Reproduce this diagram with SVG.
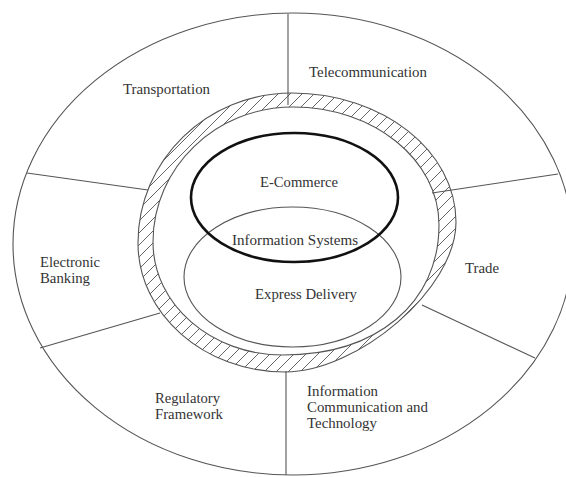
<svg xmlns="http://www.w3.org/2000/svg" width="566" height="477" viewBox="0 0 566 477">
<style>
.ln{fill:none;stroke:#555;stroke-width:1.1}
.lbl{font-family:"Liberation Serif","Times New Roman",serif;font-size:14px;fill:#333}
</style>
<defs>
<pattern id="hatch" patternUnits="userSpaceOnUse" width="12" height="12">
<path d="M-1,13 L13,-1 M-1,1 L1,-1 M11,13 L13,11" stroke="#666" stroke-width="1" fill="none"/>
</pattern>
</defs>
<rect width="566" height="477" fill="#fff"/>
<g id="outer-ring">
<ellipse cx="293" cy="244" rx="280" ry="231" class="ln" fill="#fff"/>
</g>
<g id="band">
<path fill="url(#hatch)" fill-rule="evenodd" stroke="#555" stroke-width="1.1" d="M292,93 C382.6,93 456,151 456,222 C456,289.5 357,372 285,372 C204,372 138,314 138,243 C138,160 207,93 292,93 Z M293,107 C373.6,107 439,159.8 439,225 C439,303 377,355 283,355 C211.2,355 153,304.4 153,242 C153,167.4 215.7,107 293,107 Z"/>
</g>
<g id="connectors">
<line x1="288" y1="14" x2="288" y2="105" class="ln"/>
<line x1="27" y1="173" x2="148" y2="190" class="ln"/>
<line x1="40" y1="348" x2="160" y2="313" class="ln"/>
<line x1="286" y1="371" x2="286" y2="475" class="ln"/>
<line x1="422" y1="305" x2="535" y2="358" class="ln"/>
<line x1="432" y1="193" x2="558" y2="174" class="ln"/>
</g>
<g id="transportation"><text class="lbl" x="123" y="94" textLength="87" lengthAdjust="spacingAndGlyphs">Transportation</text></g>
<g id="telecommunication"><text class="lbl" x="309" y="77" textLength="118" lengthAdjust="spacingAndGlyphs">Telecommunication</text></g>
<g id="electronic-banking">
<text class="lbl" x="40" y="267" textLength="60" lengthAdjust="spacingAndGlyphs">Electronic</text>
<text class="lbl" x="40" y="283" textLength="50" lengthAdjust="spacingAndGlyphs">Banking</text>
</g>
<g id="trade"><text class="lbl" x="465" y="273" textLength="34" lengthAdjust="spacingAndGlyphs">Trade</text></g>
<g id="regulatory-framework">
<text class="lbl" x="155" y="403" textLength="65" lengthAdjust="spacingAndGlyphs">Regulatory</text>
<text class="lbl" x="155" y="419" textLength="68" lengthAdjust="spacingAndGlyphs">Framework</text>
</g>
<g id="ict">
<text class="lbl" x="307" y="396" textLength="71" lengthAdjust="spacingAndGlyphs">Information</text>
<text class="lbl" x="307" y="412" textLength="121" lengthAdjust="spacingAndGlyphs">Communication and</text>
<text class="lbl" x="307" y="428" textLength="70" lengthAdjust="spacingAndGlyphs">Technology</text>
</g>
<g id="express-delivery">
<ellipse cx="292.5" cy="277" rx="108.5" ry="70" class="ln"/>
<text class="lbl" x="255" y="299" textLength="102" lengthAdjust="spacingAndGlyphs">Express Delivery</text>
</g>
<g id="e-commerce">
<ellipse cx="294.5" cy="197.5" rx="103.5" ry="64.5" fill="none" stroke="#111" stroke-width="2.6"/>
<text class="lbl" x="260" y="187" textLength="78" lengthAdjust="spacingAndGlyphs">E-Commerce</text>
</g>
<g id="information-systems">
<text class="lbl" x="232" y="245" textLength="126" lengthAdjust="spacingAndGlyphs">Information Systems</text>
</g>
</svg>
